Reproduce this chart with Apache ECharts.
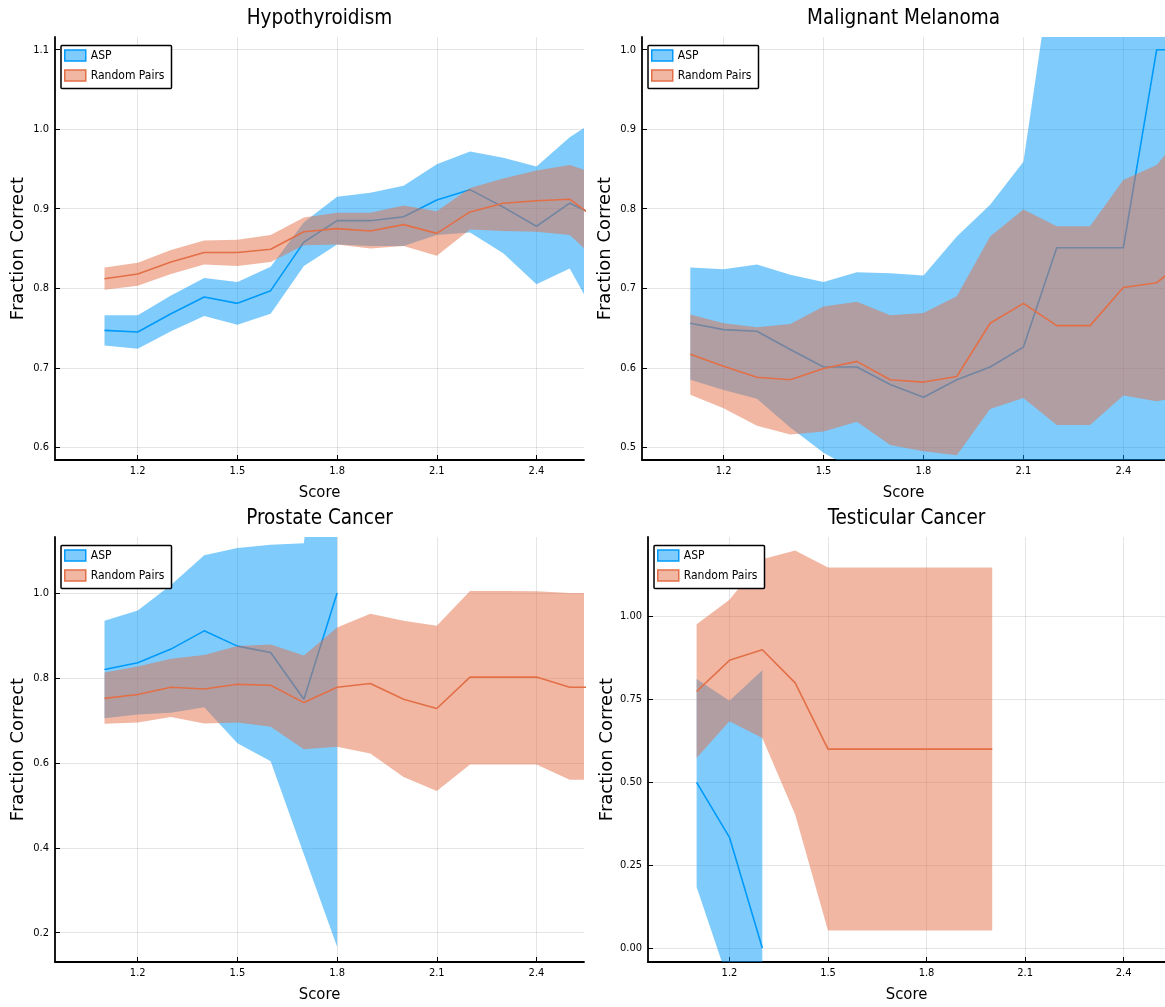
<!DOCTYPE html>
<html>
<head>
<meta charset="utf-8">
<script src="https://cdn.jsdelivr.net/npm/echarts@6/dist/echarts.min.js"></script>
<style>html,body{margin:0;padding:0;background:#fff}#c{width:1165px;height:1007px}</style>
</head>
<body>
<div id="c"></div>
<script>
// ---------------- data ----------------
const panelTitles = ['Hypothyroidism', 'Malignant Melanoma', 'Prostate Cancer', 'Testicular Cancer'];
const seriesNames = ['ASP', 'Random Pairs'];
const xTicks = [1.2, 1.5, 1.8, 2.1, 2.4];
const yTicksHypo = [0.6, 0.7, 0.8, 0.9, 1.0, 1.1];
const yTicksMela = [0.5, 0.6, 0.7, 0.8, 0.9, 1.0];
const yTicksPros = [0.2, 0.4, 0.6, 0.8, 1.0];
const yTicksTest = [0.0, 0.25, 0.5, 0.75, 1.0];

// Hypothyroidism
const hypoScore   = [1.1,1.2,1.3,1.4,1.5,1.6,1.7,1.8,1.9,2.0,2.1,2.2,2.3,2.4,2.5,2.6];
const hypoAspMean = [0.747,0.745,0.768,0.789,0.781,0.797,0.858,0.885,0.885,0.890,0.911,0.924,0.902,0.878,0.907,0.887];
const hypoAspLow  = [0.728,0.724,0.746,0.765,0.754,0.768,0.828,0.855,0.853,0.853,0.867,0.870,0.844,0.805,0.825,0.749];
const hypoAspHigh = [0.766,0.766,0.791,0.813,0.808,0.827,0.883,0.915,0.920,0.929,0.956,0.972,0.964,0.953,0.990,1.017];
const hypoRpMean  = [0.812,0.818,0.833,0.845,0.845,0.849,0.871,0.875,0.872,0.880,0.869,0.896,0.907,0.910,0.912,0.881];
const hypoRpLow   = [0.798,0.803,0.818,0.830,0.828,0.833,0.854,0.855,0.850,0.853,0.841,0.874,0.872,0.871,0.867,0.828];
const hypoRpHigh  = [0.826,0.832,0.848,0.860,0.861,0.867,0.889,0.895,0.895,0.904,0.897,0.926,0.938,0.948,0.955,0.941];

// Malignant Melanoma
const melaScore   = [1.1,1.2,1.3,1.4,1.5,1.6,1.7,1.8,1.9,2.0,2.1,2.2,2.3,2.4,2.5,2.6];
const melaAspMean = [0.656,0.648,0.646,0.623,0.601,0.601,0.579,0.563,0.585,0.601,0.626,0.751,0.751,0.751,1.000,1.000];
const melaAspLow  = [0.585,0.572,0.561,0.525,0.493,0.470,0.455,0.440,0.445,0.420,0.410,0.360,0.360,0.360,0.400,0.400];
const melaAspHigh = [0.726,0.724,0.730,0.717,0.708,0.720,0.719,0.716,0.765,0.805,0.859,1.145,1.150,1.150,1.300,1.300];
const melaRpMean  = [0.617,0.602,0.588,0.585,0.599,0.608,0.585,0.582,0.589,0.656,0.681,0.653,0.653,0.701,0.707,0.740];
const melaRpLow   = [0.566,0.549,0.527,0.516,0.520,0.532,0.503,0.495,0.490,0.548,0.562,0.528,0.528,0.565,0.558,0.565];
const melaRpHigh  = [0.667,0.656,0.651,0.655,0.677,0.683,0.666,0.669,0.690,0.765,0.799,0.778,0.778,0.836,0.855,0.905];

// Prostate Cancer
const prosAspScore = [1.1,1.2,1.3,1.4,1.5,1.6,1.7,1.8];
const prosAspMean  = [0.820,0.836,0.868,0.911,0.875,0.860,0.750,1.000];
const prosAspLow   = [0.705,0.714,0.718,0.731,0.646,0.604,0.385,0.167];
const prosAspHigh  = [0.935,0.959,1.019,1.089,1.106,1.114,1.117,1.833];
const prosRpScore  = [1.1,1.2,1.3,1.4,1.5,1.6,1.7,1.8,1.9,2.0,2.1,2.2,2.3,2.4,2.5,2.6];
const prosRpMean   = [0.752,0.761,0.778,0.774,0.785,0.783,0.742,0.778,0.787,0.750,0.728,0.802,0.802,0.802,0.778,0.778];
const prosRpLow    = [0.692,0.695,0.708,0.693,0.695,0.685,0.632,0.638,0.622,0.567,0.534,0.596,0.596,0.596,0.560,0.560];
const prosRpHigh   = [0.813,0.827,0.845,0.854,0.875,0.879,0.853,0.919,0.951,0.935,0.923,1.005,1.005,1.004,1.000,1.000];

// Testicular Cancer
const testAspScore = [1.1,1.2,1.3];
const testAspMean  = [0.500,0.334,0.000];
const testAspLow   = [0.184,-0.110,-0.200];
const testAspHigh  = [0.812,0.746,0.838];
const testRpScore  = [1.1,1.2,1.3,1.4,1.5,1.6,1.7,1.8,1.9,2.0];
const testRpMean   = [0.774,0.868,0.900,0.800,0.600,0.600,0.600,0.600,0.600,0.600];
const testRpLow    = [0.573,0.684,0.634,0.403,0.053,0.053,0.053,0.053,0.053,0.053];
const testRpHigh   = [0.977,1.051,1.173,1.199,1.148,1.148,1.148,1.148,1.148,1.148];

// ---------------- styling / layout ----------------
const BLUE = '#009AFA';
const ORANGE = '#E36F47';
const FONT_C = "'DejaVu Sans Condensed','DejaVu Sans',sans-serif";
const FONT_R = "'DejaVu Sans',sans-serif";

const panels = [
  { grid:{left:55, top:37, width:529, height:423}, xr:[0.951,2.543], yr:[0.584,1.116], yTicks:yTicksHypo, dec:1,
    asp:[hypoScore,hypoAspMean,hypoAspLow,hypoAspHigh], rp:[hypoScore,hypoRpMean,hypoRpLow,hypoRpHigh] },
  { grid:{left:642, top:37, width:523, height:423}, xr:[0.955,2.525], yr:[0.484,1.016], yTicks:yTicksMela, dec:1,
    asp:[melaScore,melaAspMean,melaAspLow,melaAspHigh], rp:[melaScore,melaRpMean,melaRpLow,melaRpHigh] },
  { grid:{left:55, top:537, width:529, height:425}, xr:[0.951,2.543], yr:[0.131,1.132], yTicks:yTicksPros, dec:1,
    asp:[prosAspScore,prosAspMean,prosAspLow,prosAspHigh], rp:[prosRpScore,prosRpMean,prosRpLow,prosRpHigh] },
  { grid:{left:648, top:537, width:517, height:425}, xr:[0.952,2.526], yr:[-0.042,1.240], yTicks:yTicksTest, dec:2,
    asp:[testAspScore,testAspMean,testAspLow,testAspHigh], rp:[testRpScore,testRpMean,testRpLow,testRpHigh] }
];

const grids = [], xAxes = [], yAxes = [], series = [], legends = [], graphics = [];

function band(gi, name, xs, mean, lo, hi, color, zBase) {
  // ribbon: one polygon through upper points then lower points, positioned by the axes
  series.push({
    type:'custom', xAxisIndex:gi, yAxisIndex:gi, name: name, clip:true, silent:true, z: zBase,
    encode:{x:0, y:[1,2]},
    itemStyle:{color},
    data: xs.map((x,i)=>[x, lo[i], hi[i]]),
    renderItem: function (params, api) {
      if (params.dataIndex !== 0) return null;
      const pts = [];
      for (let i = 0; i < xs.length; i++) pts.push(api.coord([xs[i], hi[i]]));
      for (let i = xs.length - 1; i >= 0; i--) pts.push(api.coord([xs[i], lo[i]]));
      const cs = params.coordSys;
      return {
        type:'polygon', shape:{points: pts},
        style:{fill: color, opacity: 0.5, stroke: null},
        clipPath:{type:'rect', shape:{x: cs.x, y: cs.y, width: cs.width, height: cs.height}}
      };
    }
  });
  series.push({
    type:'line', xAxisIndex:gi, yAxisIndex:gi, name: name + ' mean',
    data: xs.map((x,i)=>[x, mean[i]]), symbol:'none', lineStyle:{color, width:1.6},
    itemStyle:{color}, silent:true, z: zBase + 1
  });
}

panels.forEach((p, gi) => {
  grids.push(Object.assign({containLabel:false}, p.grid));
  xAxes.push({
    type:'value', gridIndex:gi, min:p.xr[0], max:p.xr[1],
    name:'Score', nameLocation:'middle', nameGap:24,
    nameTextStyle:{fontFamily:FONT_C, fontSize:16.5, color:'#000'},
    axisLine:{show:true, onZero:false, lineStyle:{color:'#000', width:1.8}},
    axisTick:{show:true, inside:true, length:5, customValues:xTicks, lineStyle:{color:'#000', width:1}},
    axisLabel:{customValues:xTicks, formatter:v=>v.toFixed(1), margin:6, fontFamily:FONT_C, fontSize:11, color:'#000'},
    splitLine:{show:true, lineStyle:{color:'rgba(0,0,0,0.1)', width:1}}
  });
  yAxes.push({
    type:'value', gridIndex:gi, min:p.yr[0], max:p.yr[1],
    name:'Fraction Correct', nameLocation:'middle', nameGap:28, nameRotate:90,
    nameTextStyle:{fontFamily:FONT_R, fontSize:18, color:'#000'},
    axisLine:{show:true, onZero:false, lineStyle:{color:'#000', width:1.8}},
    axisTick:{show:true, inside:true, length:5, customValues:p.yTicks, lineStyle:{color:'#000', width:1}},
    axisLabel:{customValues:p.yTicks, formatter:v=>v.toFixed(p.dec), margin:6, fontFamily:FONT_C, fontSize:11, color:'#000'},
    splitLine:{show:true, lineStyle:{color:'rgba(0,0,0,0.1)', width:1}}
  });
  band(gi, seriesNames[0], p.asp[0], p.asp[1], p.asp[2], p.asp[3], BLUE, 2);
  band(gi, seriesNames[1], p.rp[0], p.rp[1], p.rp[2], p.rp[3], ORANGE, 4);
  legends.push({
    left: p.grid.left + 6, top: p.grid.top + 8.5, orient:'vertical', z: 20,
    icon:'rect', itemWidth:21, itemHeight:11, itemGap:6, padding:[3,7,6,3],
    backgroundColor:'#fff', borderColor:'#000', borderWidth:1.5, borderRadius:1,
    selectedMode:false,
    textStyle:{fontFamily:FONT_C, fontSize:12, color:'#000', lineHeight:14},
    data:[
      {name:seriesNames[0], itemStyle:{color:'rgba(0,154,250,0.5)', borderColor:BLUE, borderWidth:1.5}},
      {name:seriesNames[1], itemStyle:{color:'rgba(227,111,71,0.5)', borderColor:ORANGE, borderWidth:1.5}}
    ]
  });
  graphics.push({
    type:'text', x: p.grid.left + p.grid.width/2, y: p.grid.top - 18.5,
    style:{text:panelTitles[gi], align:'center', verticalAlign:'middle', textAlign:'center', textVerticalAlign:'middle',
           fontFamily:FONT_C, fontSize:20.5, fill:'#000'}
  });
});

const chart = echarts.init(document.getElementById('c'), null, {renderer:'canvas'});
chart.setOption({
  backgroundColor:'#fff',
  animation:false,
  grid: grids, xAxis: xAxes, yAxis: yAxes, series: series, legend: legends, graphic: graphics
});
</script>
</body>
</html>
